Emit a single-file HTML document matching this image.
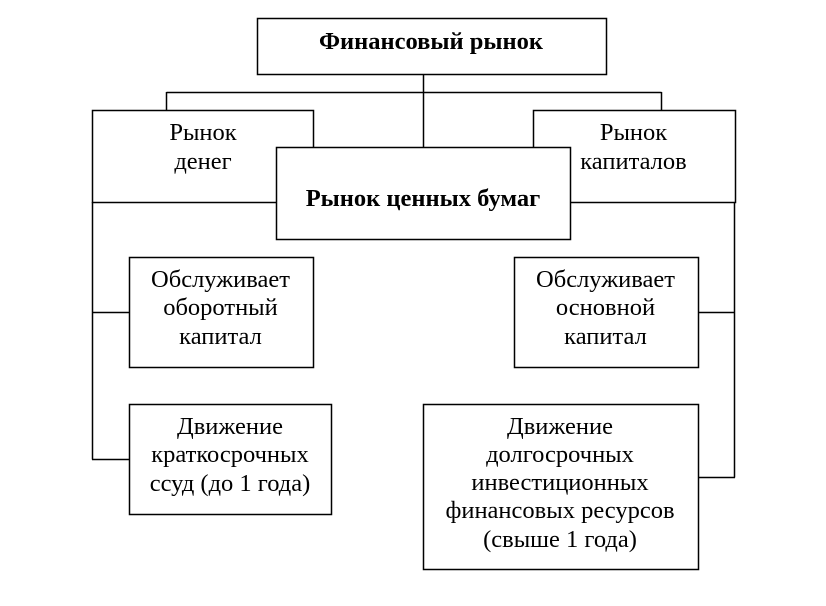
<!DOCTYPE html>
<html><head><meta charset="utf-8">
<style>
html,body{margin:0;padding:0;background:#fff}
svg{display:block}
text{font-family:"Liberation Serif","Noto Serif CJK SC",serif;font-size:24.5px;fill:#000;text-anchor:middle}
.b{font-weight:bold}
rect{fill:#fff;stroke:#000;stroke-width:1.5}
line{stroke:#000;stroke-width:1.5}
</style></head><body>
<svg width="826" height="606" viewBox="0 0 826 606" xmlns="http://www.w3.org/2000/svg">
<line x1="423.5" y1="74" x2="423.5" y2="148"/>
<line x1="166.5" y1="92.5" x2="661.5" y2="92.5"/>
<line x1="166.5" y1="92" x2="166.5" y2="111"/>
<line x1="661.5" y1="92" x2="661.5" y2="111"/>
<rect x="257.5" y="18.5" width="349" height="56"/>
<rect x="92.5" y="110.5" width="221" height="92"/>
<rect x="533.5" y="110.5" width="202" height="92"/>
<line x1="92.5" y1="202" x2="92.5" y2="459.5"/>
<line x1="92" y1="312.5" x2="130" y2="312.5"/>
<line x1="92" y1="459.5" x2="130" y2="459.5"/>
<line x1="734.5" y1="202" x2="734.5" y2="477.5"/>
<line x1="698" y1="312.5" x2="735" y2="312.5"/>
<line x1="698" y1="477.5" x2="735" y2="477.5"/>
<rect x="276.5" y="147.5" width="294" height="92"/>
<rect x="129.5" y="257.5" width="184" height="110"/>
<rect x="514.5" y="257.5" width="184" height="110"/>
<rect x="129.5" y="404.5" width="202" height="110"/>
<rect x="423.5" y="404.5" width="275" height="165"/>
<text class="b" x="431" y="49">Финансовый рынок</text>
<text x="203" y="140">Рынок</text>
<text x="203" y="169">денег</text>
<text x="633.5" y="140">Рынок</text>
<text x="633.5" y="169">капиталов</text>
<text class="b" x="423" y="206">Рынок ценных бумаг</text>
<text x="220.5" y="287">Обслуживает</text>
<text x="220.5" y="315">оборотный</text>
<text x="220.5" y="344">капитал</text>
<text x="605.5" y="287">Обслуживает</text>
<text x="605.5" y="315">основной</text>
<text x="605.5" y="344">капитал</text>
<text x="230" y="434">Движение</text>
<text x="230" y="462">краткосрочных</text>
<text x="230" y="491">ссуд (до 1 года)</text>
<text x="560" y="434">Движение</text>
<text x="560" y="462">долгосрочных</text>
<text x="560" y="490">инвестиционных</text>
<text x="560" y="518">финансовых ресурсов</text>
<text x="560" y="547">(свыше 1 года)</text>
</svg>
</body></html>
